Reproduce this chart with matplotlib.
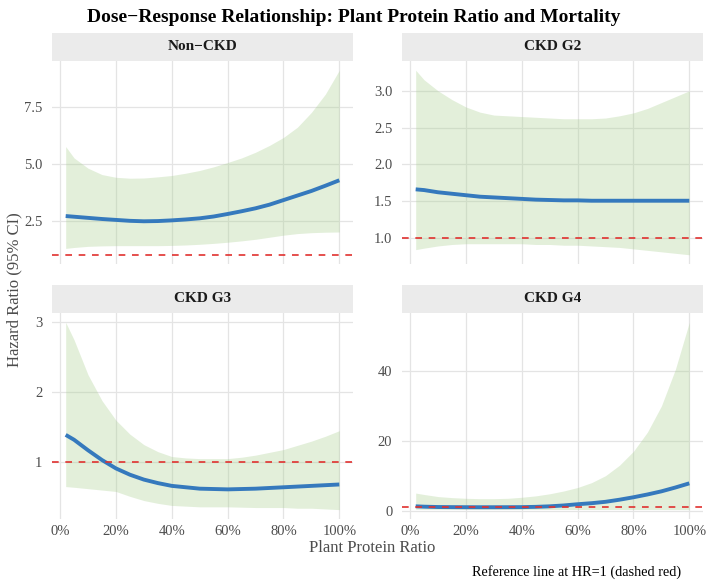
"""
Dose-response curves: plant protein ratio vs hazard ratio, by CKD stage.
"""
import numpy as np
import matplotlib.pyplot as plt
from matplotlib.ticker import FixedLocator, FuncFormatter

plt.rcParams['font.family'] = ['Liberation Serif', 'DejaVu Serif']

# Plant protein ratio (shared x grid)
ratio = [0.02, 0.05, 0.10, 0.15, 0.20, 0.25, 0.30, 0.35, 0.40, 0.45, 0.50,
         0.55, 0.60, 0.65, 0.70, 0.75, 0.80, 0.85, 0.90, 0.95, 1.00]

# Non-CKD
noncd_hr = [2.70, 2.67, 2.62, 2.57, 2.53, 2.49, 2.47, 2.48, 2.51, 2.55, 2.60,
            2.68, 2.79, 2.91, 3.04, 3.20, 3.40, 3.60, 3.80, 4.03, 4.27]
noncd_hi = [5.75, 5.25, 4.80, 4.52, 4.40, 4.36, 4.37, 4.42, 4.48, 4.58, 4.70,
            4.86, 5.05, 5.25, 5.50, 5.80, 6.15, 6.60, 7.25, 8.05, 9.10]
noncd_lo = [1.28, 1.32, 1.37, 1.39, 1.40, 1.40, 1.40, 1.40, 1.41, 1.43, 1.46,
            1.50, 1.55, 1.61, 1.68, 1.77, 1.86, 1.93, 1.97, 1.99, 2.00]

# CKD G2
g2_hr = [1.66, 1.65, 1.62, 1.60, 1.58, 1.56, 1.55, 1.54, 1.53, 1.52, 1.515,
         1.51, 1.51, 1.505, 1.505, 1.505, 1.505, 1.505, 1.505, 1.505, 1.505]
g2_hi = [3.28, 3.15, 3.00, 2.88, 2.78, 2.71, 2.67, 2.66, 2.65, 2.64, 2.63,
         2.62, 2.62, 2.62, 2.63, 2.66, 2.70, 2.76, 2.84, 2.92, 3.00]
g2_lo = [0.84, 0.86, 0.89, 0.91, 0.92, 0.92, 0.92, 0.92, 0.92, 0.91, 0.91,
         0.90, 0.90, 0.89, 0.88, 0.87, 0.85, 0.83, 0.81, 0.79, 0.77]

# CKD G3
g3_hr = [1.39, 1.32, 1.17, 1.03, 0.91, 0.82, 0.75, 0.70, 0.66, 0.64, 0.62,
         0.615, 0.61, 0.615, 0.62, 0.63, 0.64, 0.65, 0.66, 0.67, 0.68]
g3_hi = [3.00, 2.75, 2.25, 1.88, 1.60, 1.40, 1.25, 1.15, 1.08, 1.06, 1.05,
         1.05, 1.05, 1.07, 1.10, 1.14, 1.18, 1.24, 1.30, 1.37, 1.45]
g3_lo = [0.65, 0.64, 0.62, 0.60, 0.58, 0.51, 0.45, 0.41, 0.38, 0.37, 0.36,
         0.36, 0.36, 0.355, 0.35, 0.35, 0.35, 0.34, 0.34, 0.33, 0.32]

# CKD G4
g4_hr = [1.2, 1.1, 1.0, 0.97, 0.95, 0.94, 0.94, 0.95, 0.97, 1.05, 1.2,
         1.45, 1.8, 2.1, 2.5, 3.1, 3.8, 4.6, 5.5, 6.6, 7.8]
g4_hi = [5.0, 4.6, 4.0, 3.7, 3.5, 3.4, 3.4, 3.5, 3.8, 4.2, 4.8,
         5.6, 6.6, 8.0, 10.0, 13.0, 17.0, 22.5, 30.0, 40.5, 54.0]
g4_lo = [0.35, 0.33, 0.31, 0.30, 0.29, 0.29, 0.29, 0.29, 0.29, 0.29, 0.29,
         0.29, 0.29, 0.29, 0.29, 0.29, 0.28, 0.28, 0.27, 0.26, 0.25]

panels = ['Non\u2212CKD', 'CKD G2', 'CKD G3', 'CKD G4']
hr_list = [noncd_hr, g2_hr, g3_hr, g4_hr]
hi_list = [noncd_hi, g2_hi, g3_hi, g4_hi]
lo_list = [noncd_lo, g2_lo, g3_lo, g4_lo]
yticks = [[2.5, 5.0, 7.5], [1.0, 1.5, 2.0, 2.5, 3.0], [1, 2, 3], [0, 20, 40]]
yfmt = ['{:.1f}', '{:.1f}', '{:.0f}', '{:.0f}']
xticks = [0, 0.2, 0.4, 0.6, 0.8, 1.0]

W, H = 708, 581
fig = plt.figure(figsize=(W / 100, H / 100), dpi=100)

# panel boxes in pixels: left, right, top, bottom (strip sits above top)
lefts = [52, 402]
rights = [353, 703]
tops = [61, 313]
bottoms = [264, 519]
strip_h = 28

grid_col = '#e4e4e4'
tick_col = '#4d4d4d'
x = np.array(ratio)
xmin, xmax = x.min(), x.max()
xpad = 0.05 * (xmax - xmin)

for i, name in enumerate(panels):
    r, c = divmod(i, 2)
    l, rr, t, b = lefts[c], rights[c], tops[r], bottoms[r]
    ax = fig.add_axes([l / W, 1 - b / H, (rr - l) / W, (b - t) / H])
    sax = fig.add_axes([l / W, 1 - t / H, (rr - l) / W, strip_h / H])
    sax.set_facecolor('#ebebeb')
    sax.set_xticks([])
    sax.set_yticks([])
    for sp in sax.spines.values():
        sp.set_visible(False)
    sax.text(0.5, 0.5, name, ha='center', va='center', fontsize=11,
             fontweight='bold', color='#1a1a1a', transform=sax.transAxes)

    hr = np.array(hr_list[i])
    hi = np.array(hi_list[i])
    lo = np.array(lo_list[i])

    ax.fill_between(x, lo, hi, color='#a8cf8e', alpha=0.32, lw=0)
    ax.plot(x, hr, color='#3579bd', lw=2.8, solid_capstyle='butt')
    ax.axhline(1, color='#e0312f', lw=1.2, ls=(0, (4, 4)))

    ymin = min(lo.min(), 1)
    ymax = max(hi.max(), 1)
    ypad = 0.05 * (ymax - ymin)
    ax.set_ylim(ymin - ypad, ymax + ypad)
    ax.set_xlim(xmin - xpad, xmax + xpad)

    ax.set_xticks(xticks)
    ax.yaxis.set_major_locator(FixedLocator(yticks[i]))
    f = yfmt[i]
    ax.yaxis.set_major_formatter(FuncFormatter(lambda v, p, f=f: f.format(v)))
    if r == 1:
        ax.set_xticklabels(['{:.0f}%'.format(v * 100) for v in xticks])
    else:
        ax.set_xticklabels([])

    ax.grid(True, color=grid_col, lw=0.9)
    ax.set_axisbelow(True)
    ax.tick_params(length=0, labelsize=10.5, colors=tick_col)
    ax.tick_params(axis='y', pad=7)
    ax.tick_params(axis='x', pad=4)
    for sp in ax.spines.values():
        sp.set_visible(False)

fig.text(354 / W, 1 - 17 / H,
         'Dose\u2212Response Relationship: Plant Protein Ratio and Mortality',
         ha='center', va='center', fontsize=14, fontweight='bold')
fig.text(14 / W, 1 - 290 / H, 'Hazard Ratio (95% CI)', rotation=90,
         ha='center', va='center', fontsize=12, color='#4d4d4d')
fig.text(372 / W, 1 - 548 / H, 'Plant Protein Ratio', ha='center',
         va='center', fontsize=12, color='#4d4d4d')
fig.text(681 / W, 1 - 572 / H, 'Reference line at HR=1 (dashed red)',
         ha='right', va='center', fontsize=10.3)

fig.savefig('out.png', dpi=100)
